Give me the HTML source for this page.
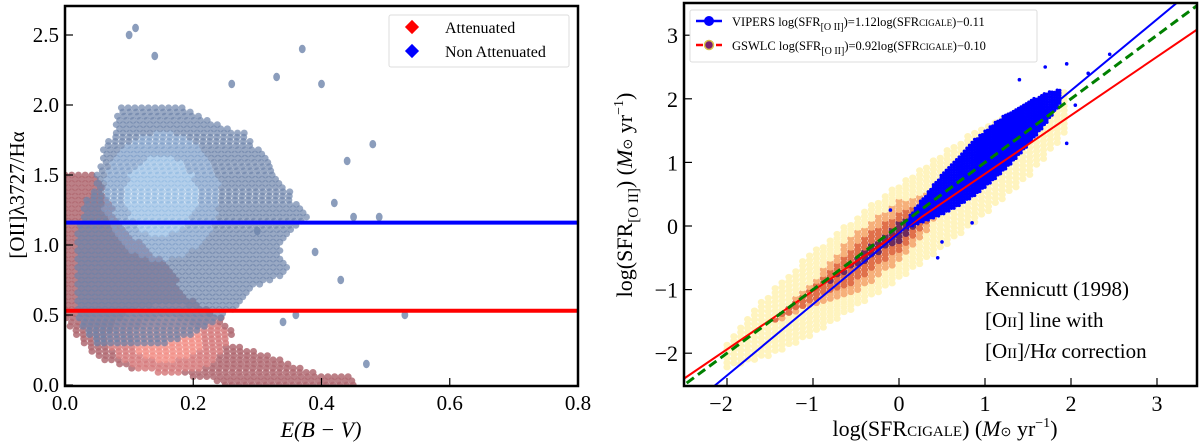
<!DOCTYPE html>
<html><head><meta charset="utf-8">
<style>
body{margin:0;background:#fff;width:1200px;height:442px;overflow:hidden}
svg{display:block;font-family:"Liberation Serif",serif}
</style></head>
<body>
<svg id="fig" width="1200" height="442" viewBox="0 0 1200 442" xmlns="http://www.w3.org/2000/svg">
<g id="left"></g>
<g id="right"></g>
</svg>
<script>
// ---------- Left panel data ----------
const leftXTicks = [0.0, 0.2, 0.4, 0.6, 0.8];
const leftYTicks = [0.0, 0.5, 1.0, 1.5, 2.0, 2.5];
const blueRowY = [0.3, 0.4, 0.5, 0.6, 0.7, 0.8, 0.9, 1.0, 1.1, 1.2, 1.3, 1.4, 1.5, 1.6, 1.7, 1.8, 1.9, 2.0];
const blueRowMin = [0.05,0.03,0.02,0.02,0.02,0.02,0.02,0.02,0.02,0.03,0.03,0.05,0.05,0.06,0.06,0.08,0.08,0.09];
const blueRowMax = [0.16,0.22,0.25,0.28,0.30,0.35,0.34,0.34,0.36,0.38,0.36,0.35,0.33,0.32,0.30,0.28,0.22,0.18];
const blueOutX = [0.10,0.11,0.14,0.37,0.33,0.40,0.48,0.44,0.49,0.53,0.47,0.42,0.39,0.36,0.34,0.30,0.26,0.45,0.43];
const blueOutY = [2.5,2.55,2.35,2.4,2.2,2.15,1.72,1.6,1.2,0.5,0.15,1.3,0.95,0.5,0.45,1.1,2.15,1.2,0.75];
const redRowY = [0.0, 0.05, 0.1, 0.15, 0.2, 0.3, 0.4, 0.5, 0.6, 0.7, 0.8, 0.9, 1.0, 1.1, 1.2, 1.3, 1.4, 1.5];
const redRowMin = [0.25,0.22,0.12,0.08,0.05,0.03,0.01,0.0,0.0,0.0,0.0,0.0,0.0,0.0,0.0,0.0,0.0,0.0];
const redRowMax = [0.45,0.46,0.38,0.35,0.33,0.26,0.26,0.24,0.20,0.18,0.17,0.15,0.12,0.10,0.08,0.07,0.06,0.05];
const blueLevel = 1.16;
const redLevel = 0.53;

// ---------- Right panel data ----------
const rightXTicks = [-2, -1, 0, 1, 2, 3];
const rightYTicks = [-2, -1, 0, 1, 2, 3];
const bandX = [-2.0, -1.5, -1.0, -0.5, 0.0, 0.5, 1.0, 1.5, 2.0];
const yellowHW = [0.2, 0.5, 0.65, 0.7, 0.75, 0.75, 0.7, 0.6, 0.3];
const orangeHW = [0, 0, 0.12, 0.3, 0.3, 0.12, 0, 0, 0];
const purpleHW = [0, 0, 0, 0.06, 0.16, 0.05, 0, 0, 0];
const vipX = [0.1, 0.3, 0.5, 0.7, 0.9, 1.1, 1.3, 1.5, 1.7, 1.9];
const vipHW = [0.08, 0.2, 0.32, 0.4, 0.45, 0.45, 0.42, 0.35, 0.25, 0.1];
const vipOutX = [-0.1, 0.45, 1.95, 2.2, 2.45, 1.7, 1.95, 0.85, 1.1, 0.5, 1.4, 2.05];
const vipOutY = [0.25, -0.5, 1.3, 2.4, 2.7, 2.5, 2.55, 0.05, 1.25, -0.25, 2.3, 1.9];
const fitBlue = [1.12, -0.11];
const fitRed = [0.92, -0.10];

const NS = "http://www.w3.org/2000/svg";
function mk(parent, tag, attrs, text){
  const e = document.createElementNS(NS, tag);
  for (const k in attrs) e.setAttribute(k, attrs[k]);
  if (text !== undefined) e.textContent = text;
  parent.appendChild(e);
  return e;
}
function lerp(xs, ys, x){
  if (x <= xs[0]) return ys[0];
  for (let i=1;i<xs.length;i++){ if (x <= xs[i]){ const t=(x-xs[i-1])/(xs[i]-xs[i-1]); return ys[i-1]+t*(ys[i]-ys[i-1]); } }
  return ys[ys.length-1];
}

// ===== LEFT =====
const L = document.getElementById('left');
const LX0=65, LX1=578, LY0=6, LY1=386;
const lx = v => LX0 + v/0.8*(LX1-LX0);
const ly = v => 385 - v*140;
const lclip = mk(L,'clipPath',{id:'lc'}); mk(lclip,'rect',{x:LX0,y:LY0,width:LX1-LX0,height:LY1-LY0});
const lData = mk(L,'g',{'clip-path':'url(#lc)'});


function hexRows(g, ys, mins, maxs, colEdge, colMid, colCore, coreX, op){
  let r = 0;
  for (let y=ys[0]; y<=ys[ys.length-1]+1e-6; y+=0.03, r++){
    const mn = lerp(ys,mins,y), mx = lerp(ys,maxs,y);
    const off = (r%2) ? 0.0052 : 0;
    for (let x=mn+off; x<=mx; x+=0.0105){
      const dx=(x-coreX[0])/coreX[1], dy=(y-coreX[2])/coreX[3];
      const dc = dx*dx+dy*dy;
      const c = dc<0.5 ? colCore : (dc<1.3 ? colMid : colEdge);
      const h = mk(g,'ellipse',{cx:lx(x),cy:ly(y),rx:3.5,ry:3.4,fill:c,opacity:op});
      
      
    }
  }
}
const redG = mk(lData,'g',{});  
hexRows(redG, redRowY, redRowMin, redRowMax, '#b06a72', '#d67c7e', '#f29088', [0.16,0.08,0.33,0.22], 0.85);
const blueG = mk(lData,'g',{});  
hexRows(blueG, blueRowY, blueRowMin, blueRowMax, '#6e85ab', '#7c9dc8', '#93bbe3', [0.15,0.08,1.35,0.4], 0.7);
blueOutX.forEach((x,i)=>{
  const h = mk(blueG,'ellipse',{cx:lx(x),cy:ly(blueOutY[i]),rx:3.4,ry:4.2,fill:'#6e85ab',opacity:0.8});
  
  
});
const bl = mk(lData,'line',{x1:LX0,x2:LX1,y1:ly(blueLevel),y2:ly(blueLevel),stroke:'#0000ff','stroke-width':4});
 
const rl = mk(lData,'line',{x1:LX0,x2:LX1,y1:ly(redLevel),y2:ly(redLevel),stroke:'#ff0000','stroke-width':4});
 
const lf = mk(L,'rect',{x:LX0,y:LY0,width:LX1-LX0,height:LY1-LY0,fill:'none',stroke:'#000','stroke-width':2.5});
 
leftXTicks.forEach(v=>{
  mk(L,'line',{x1:lx(v),x2:lx(v),y1:LY1,y2:LY1-8,stroke:'#000','stroke-width':1.2});
  const t = mk(L,'text',{x:lx(v),y:410,'font-size':21,'text-anchor':'middle'},v.toFixed(1));
   
});
leftYTicks.forEach(v=>{
  mk(L,'line',{x1:LX0,x2:LX0+8,y1:ly(v),y2:ly(v),stroke:'#000','stroke-width':1.2});
  const t = mk(L,'text',{x:59,y:ly(v)+7,'font-size':21,'text-anchor':'end'},v.toFixed(1));
   
});
const lxt = mk(L,'text',{x:321,y:437,'font-size':22,'text-anchor':'middle','font-style':'italic'},'E(B − V)');
 
const lyt = mk(L,'text',{transform:'translate(24,195) rotate(-90)','font-size':21,'text-anchor':'middle'},'[OII]λ3727/Hα');
 
const lleg = mk(L,'g',{});  
mk(lleg,'rect',{x:389,y:15,width:180,height:52,fill:'#fff',stroke:'#ddd','stroke-width':1,rx:2});
mk(lleg,'rect',{x:407,y:22,width:10,height:10,fill:'#ff0000',transform:'rotate(45 412 27)'});
mk(lleg,'rect',{x:407,y:46,width:10,height:10,fill:'#0000ff',transform:'rotate(45 412 51)'});
const le1 = mk(lleg,'text',{x:445,y:33,'font-size':16},'Attenuated');  
const le2 = mk(lleg,'text',{x:445,y:57,'font-size':16},'Non Attenuated');  

// ===== RIGHT =====
const R = document.getElementById('right');
const RX0=684, RX1=1197, RY0=3, RY1=386;
const rx = v => 899 + v*86;
const ry = v => 226 - v*63.6;
const rclip = mk(R,'clipPath',{id:'rc'}); mk(rclip,'rect',{x:RX0,y:RY0,width:RX1-RX0,height:RY1-RY0});
const rData = mk(R,'g',{'clip-path':'url(#rc)'});
const dens = mk(rData,'g',{});  
let rr = 0;
for (let x=bandX[0]; x<=bandX[bandX.length-1]; x+=0.08, rr++){
  const c = 0.97*x - 0.08;
  const hy = lerp(bandX,yellowHW,x), ho = lerp(bandX,orangeHW,x), hp = lerp(bandX,purpleHW,x);
  for (let y=c-hy+(rr%2?0.035:0); y<=c+hy; y+=0.07){
    const d = Math.abs(y-c);
    let col = '#fff4bf';
    if (d < hp) col = '#6e2a5c';
    else if (d < ho) col = '#e0704a';
    else if (d < ho*1.6) col = '#f6b07a';
    const h = mk(dens,'ellipse',{cx:rx(x),cy:ry(y),rx:3.6,ry:3.2,fill:col});
    
    
  }
}
const vip = mk(rData,'g',{});  
let vk = 0;
for (let x=vipX[0]; x<=vipX[vipX.length-1]; x+=0.03, vk++){
  const c = fitBlue[0]*x + fitBlue[1] + 0.05;
  const hw = lerp(vipX,vipHW,x);
  for (let y=c-hw+(vk%2?0.02:0); y<=c+hw; y+=0.04){
    const p = mk(vip,'circle',{cx:rx(x),cy:ry(y),r:1.7,fill:'#0000ff'});
    
    
  }
}
vipOutX.forEach((x,i)=>{
  const p = mk(vip,'circle',{cx:rx(x),cy:ry(vipOutY[i]),r:1.8,fill:'#0000ff'});
  
  
});
const xa=-2.6, xb=3.6;
const ln1 = mk(rData,'line',{x1:rx(xa),y1:ry(fitRed[0]*xa+fitRed[1]),x2:rx(xb),y2:ry(fitRed[0]*xb+fitRed[1]),stroke:'#ff0000','stroke-width':2});
 
const ln2 = mk(rData,'line',{x1:rx(xa),y1:ry(fitBlue[0]*xa+fitBlue[1]),x2:rx(xb),y2:ry(fitBlue[0]*xb+fitBlue[1]),stroke:'#0000ff','stroke-width':2});
 
const ln3 = mk(rData,'line',{x1:rx(xa),y1:ry(xa),x2:rx(xb),y2:ry(xb),stroke:'#008000','stroke-width':3,'stroke-dasharray':'9,5'});
 
const rf = mk(R,'rect',{x:RX0,y:RY0,width:RX1-RX0,height:RY1-RY0,fill:'none',stroke:'#000','stroke-width':2.5});
 
rightXTicks.forEach(v=>{
  mk(R,'line',{x1:rx(v),x2:rx(v),y1:RY1,y2:RY1-8,stroke:'#000','stroke-width':1.2});
  const t = mk(R,'text',{x:rx(v)-(v<0?6:0),y:411,'font-size':22,'text-anchor':'middle'},v<0?'−'+(-v):String(v));
   
});
rightYTicks.forEach(v=>{
  mk(R,'line',{x1:RX0,x2:RX0+8,y1:ry(v),y2:ry(v),stroke:'#000','stroke-width':1.2});
  const t = mk(R,'text',{x:678,y:ry(v)+8,'font-size':22,'text-anchor':'end'},v<0?'−'+(-v):String(v));
   
});
const rxt = mk(R,'text',{x:945,y:436,'font-size':22,'text-anchor':'middle'});
 
rxt.innerHTML = 'log(SFR<tspan font-size="15">CIGALE</tspan>) (<tspan font-style="italic">M</tspan><tspan font-size="13">⊙</tspan> yr<tspan font-size="14" dy="-9">−1</tspan><tspan dy="9">)</tspan>';
const ryt = mk(R,'text',{transform:'translate(632,195) rotate(-90)','font-size':22,'text-anchor':'middle'});
 
ryt.innerHTML = 'log(SFR<tspan font-size="15" dy="6">[O II]</tspan><tspan dy="-6">) (</tspan><tspan font-style="italic">M</tspan><tspan font-size="13">⊙</tspan> yr<tspan font-size="14" dy="-9">−1</tspan><tspan dy="9">)</tspan>';
const rleg = mk(R,'g',{});  
mk(rleg,'rect',{x:690,y:10,width:347,height:52,fill:'#fff',stroke:'#ddd','stroke-width':1,rx:2});
mk(rleg,'line',{x1:696,x2:722,y1:21,y2:21,stroke:'#0000ff','stroke-width':2.5});
mk(rleg,'circle',{cx:709,cy:21,r:5,fill:'#0000ff'});
mk(rleg,'line',{x1:696,x2:722,y1:45,y2:45,stroke:'#ff0000','stroke-width':2.5,'stroke-dasharray':'7,3'});
mk(rleg,'circle',{cx:709,cy:45,r:4.5,fill:'#7a1f6e',stroke:'#d9c24a','stroke-width':1.5});
const re1 = mk(rleg,'text',{x:732,y:26,'font-size':12.5});  
re1.innerHTML = 'VIPERS log(SFR<tspan font-size="10" dy="4">[O II]</tspan><tspan dy="-4">)=1.12log(SFR</tspan><tspan font-size="9">CIGALE</tspan>)−0.11';
const re2 = mk(rleg,'text',{x:732,y:50,'font-size':12.5});  
re2.innerHTML = 'GSWLC log(SFR<tspan font-size="10" dy="4">[O II]</tspan><tspan dy="-4">)=0.92log(SFR</tspan><tspan font-size="9">CIGALE</tspan>)−0.10';
const ann = mk(R,'g',{});  
mk(ann,'text',{x:985,y:296,'font-size':21},'Kennicutt (1998)');
mk(ann,'text',{x:985,y:327,'font-size':21}).innerHTML='[O<tspan font-size="15">II</tspan>] line with';
mk(ann,'text',{x:985,y:358,'font-size':21}).innerHTML='[O<tspan font-size="15">II</tspan>]/H<tspan font-style="italic">α</tspan> correction';
</script>
</body></html>
